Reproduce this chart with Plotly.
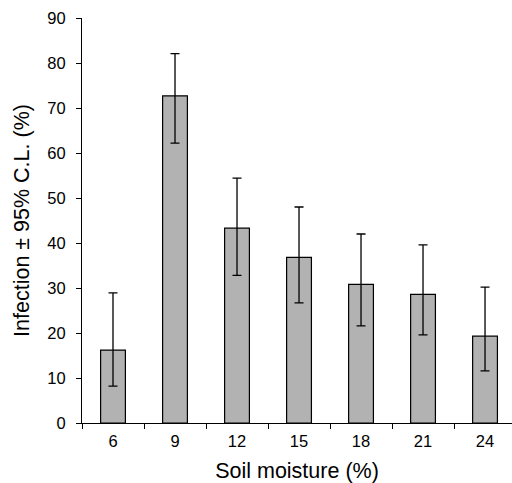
import plotly.graph_objects as go

moisture = ["6", "9", "12", "15", "18", "21", "24"]
infection = [16.2, 72.7, 43.3, 36.8, 30.8, 28.6, 19.3]
upper_ci = [28.9, 82.1, 54.4, 48.0, 42.0, 39.6, 30.2]
lower_ci = [8.2, 62.2, 32.8, 26.7, 21.6, 19.6, 11.6]

err_plus = [u - v for u, v in zip(upper_ci, infection)]
err_minus = [v - l for v, l in zip(infection, lower_ci)]

fig = go.Figure(go.Bar(
    x=moisture, y=infection,
    marker=dict(color="#b2b2b2", line=dict(color="black", width=1.2)),
    error_y=dict(type="data", symmetric=False, array=err_plus, arrayminus=err_minus,
                 color="black", thickness=1.3, width=4.5),
))

fig.update_layout(
    width=512, height=483,
    margin=dict(l=82, r=0, t=17.5, b=60.3, autoexpand=False),
    paper_bgcolor="white", plot_bgcolor="white",
    bargap=0.6, showlegend=False,
    font=dict(family="Liberation Sans, Arial, sans-serif", size=16.5, color="black"),
)
fig.update_xaxes(
    type="category", range=[-0.5, 6.435],
    showline=True, linecolor="black", linewidth=1.2,
    ticks="outside", ticklen=5, tickcolor="black", tickwidth=1.2, tickson="boundaries",
    showgrid=False, automargin=False, ticklabelstandoff=3,
    title=dict(text="Soil moisture (%)", standoff=14, font=dict(size=21.5)),
    tickfont=dict(size=16.5),
)
fig.update_yaxes(
    range=[0, 90], dtick=10,
    showline=True, linecolor="black", linewidth=1.2,
    ticks="outside", ticklen=5, tickcolor="black", tickwidth=1.2,
    showgrid=False, zeroline=False, automargin=False, ticklabelstandoff=7,
    title=dict(text="Infection ± 95% C.L. (%)", standoff=11, font=dict(size=21.5)),
    tickfont=dict(size=16.5),
)

fig.write_html("out.html", config={"displayModeBar": False},
               post_script="document.body.style.margin='0';")
